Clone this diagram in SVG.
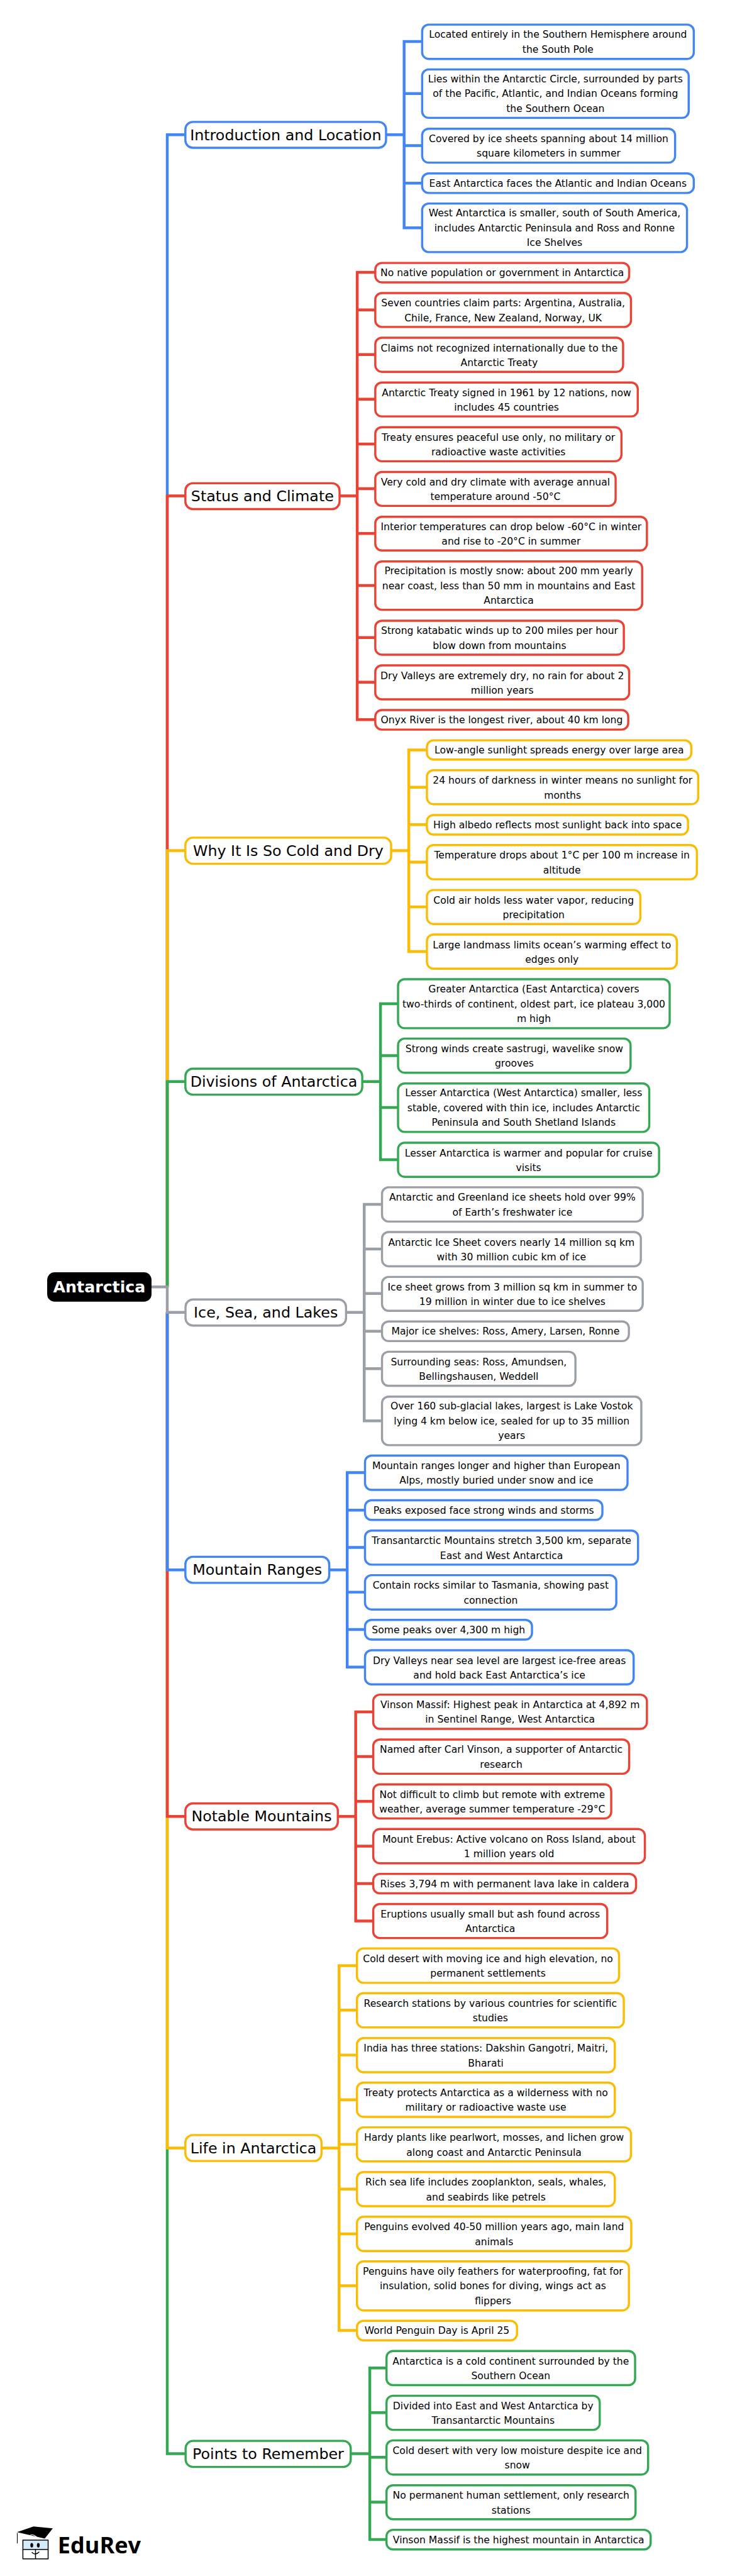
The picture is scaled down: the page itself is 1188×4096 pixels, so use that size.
<svg xmlns="http://www.w3.org/2000/svg" width="1188" height="4096" viewBox="0 0 1188 4096">
<style>
text{font-family:"DejaVu Sans","Liberation Sans",sans-serif;text-anchor:middle;fill:#000}
.l{font-size:21px}
.h{font-size:32px}
.r{font-size:34px;font-weight:700;fill:#fff}
rect{fill:#fff;stroke-width:4.6}
.cb{stroke:#4285f4}.cr{stroke:#ea4335}.cy{stroke:#fbbc04}.cg{stroke:#34a853}.ca{stroke:#9aa0a6}
path{fill:none;stroke-width:6}
</style>
<rect x="0" y="0" width="1188" height="4096" style="fill:#fff;stroke:none"/>
<g transform="scale(0.743)">
<g id="connectors">
<path class="cb" d="M358 2754V288.4H397"/>
<path class="cr" d="M358 2754V1061.2H397"/>
<path class="cy" d="M358 2754V1820.3H397"/>
<path class="cg" d="M358 2754V2314.7H397"/>
<path class="cg" d="M358 2808.6V5251H397"/>
<path class="cy" d="M358 2808.6V4596.8H397"/>
<path class="cr" d="M358 2808.6V3887.3H397"/>
<path class="cb" d="M358 2808.6V3359.7H397"/>
<path class="ca" d="M322 2754H358V2808.6H397"/>
<path class="cb" d="M826 288.4H865M904 88.8H865V487.6H904M865 200.2H904M865 311.6H904M865 392H904"/>
<path class="cr" d="M727 1061.2H764.6M804 582.9H764.6V1540H804M764.6 663.3H804M764.6 758.8H804M764.6 854.3H804M764.6 950.2H804M764.6 1045.7H804M764.6 1141.6H804M764.6 1253H804M764.6 1364.3H804M764.6 1460H804"/>
<path class="cy" d="M837 1820.3H875M914 1605H875V2036.3H914M875 1684.7H914M875 1764.7H914M875 1845H914M875 1940.7H914"/>
<path class="cg" d="M775 2314.7H814.4M852 2148H814.4V2481.7H852M814.4 2259H852M814.4 2370H852"/>
<path class="ca" d="M741 2808.6H779.6M818 2577.3H779.6V3040.8H818M779.6 2673H818M779.6 2768.3H818M779.6 2849H818M779.6 2928.9H818"/>
<path class="cb" d="M705 3359.7H743.2M782 3151.3H743.2V3567.7H782M743.2 3231.7H782M743.2 3311.7H782M743.2 3407.3H782M743.2 3487.3H782"/>
<path class="cr" d="M723 3887.3H761.3M799 3663.6H761.3V4111H799M761.3 3759H799M761.3 3855H799M761.3 3951H799M761.3 4031H799"/>
<path class="cy" d="M688 4596.8H725.8M764 4206.6H725.8V4987.3H764M725.8 4301.8H764M725.8 4397.9H764M725.8 4493.6H764M725.8 4589H764M725.8 4684.6H764M725.8 4780.7H764M725.8 4891.7H764"/>
<path class="cg" d="M751 5251H791.5M828 5067.7H791.5V5434.7H828M791.5 5163.3H828M791.5 5258.7H828M791.5 5354.7H828"/>
</g>
<g id="root"><rect x="101" y="2722.8" width="223.3" height="62.9" rx="16" style="fill:#000;stroke:none"/><text class="r" x="212.6" y="2766">Antarctica</text></g>

<g id="intro"><rect class="cb" x="396.8" y="260.9" width="429.5" height="55.4" rx="16"/><text class="h" x="611.5" y="299.6">Introduction and Location</text></g>
<g id="intro-1"><rect class="cb" x="903.6" y="52.7" width="581.4" height="73.4" rx="14"/><text class="l" x="1194.3" y="81">Located entirely in the Southern Hemisphere around</text><text class="l" x="1194.3" y="112.4">the South Pole</text></g>
<g id="intro-2"><rect class="cb" x="903.6" y="148.6" width="570.5" height="103.6" rx="14"/><text class="l" x="1188.9" y="176.3">Lies within the Antarctic Circle, surrounded by parts</text><text class="l" x="1188.9" y="207.7">of the Pacific, Atlantic, and Indian Oceans forming</text><text class="l" x="1188.9" y="239.1">the Southern Ocean</text></g>
<g id="intro-3"><rect class="cb" x="903.6" y="275.6" width="541.4" height="72.5" rx="14"/><text class="l" x="1174.3" y="304.4">Covered by ice sheets spanning about 14 million</text><text class="l" x="1174.3" y="335.8">square kilometers in summer</text></g>
<g id="intro-4"><rect class="cb" x="903.6" y="371.1" width="581.4" height="41.9" rx="14"/><text class="l" x="1194.3" y="399.3">East Antarctica faces the Atlantic and Indian Oceans</text></g>
<g id="intro-5"><rect class="cb" x="903.6" y="435.6" width="566.9" height="103.9" rx="14"/><text class="l" x="1187" y="463.5">West Antarctica is smaller, south of South America,</text><text class="l" x="1187" y="494.9">includes Antarctic Peninsula and Ross and Ronne</text><text class="l" x="1187" y="526.3">Ice Shelves</text></g>

<g id="status"><rect class="cr" x="396.8" y="1034.1" width="330" height="55.4" rx="16"/><text class="h" x="561.7" y="1072.8">Status and Climate</text></g>
<g id="status-1"><rect class="cr" x="803.3" y="562.7" width="543.4" height="41.5" rx="14"/><text class="l" x="1075" y="590.8">No native population or government in Antarctica</text></g>
<g id="status-2"><rect class="cr" x="803.3" y="627.2" width="547.2" height="72.5" rx="14"/><text class="l" x="1076.9" y="656.1">Seven countries claim parts: Argentina, Australia,</text><text class="l" x="1076.9" y="687.5">Chile, France, New Zealand, Norway, UK</text></g>
<g id="status-3"><rect class="cr" x="803.3" y="722.7" width="530.4" height="73" rx="14"/><text class="l" x="1068.5" y="751.8">Claims not recognized internationally due to the</text><text class="l" x="1068.5" y="783.2">Antarctic Treaty</text></g>
<g id="status-4"><rect class="cr" x="803.3" y="818.6" width="561.8" height="72.6" rx="14"/><text class="l" x="1084.2" y="847.5">Antarctic Treaty signed in 1961 by 12 nations, now</text><text class="l" x="1084.2" y="878.9">includes 45 countries</text></g>
<g id="status-5"><rect class="cr" x="803.3" y="914.1" width="526.9" height="73" rx="14"/><text class="l" x="1066.8" y="943.2">Treaty ensures peaceful use only, no military or</text><text class="l" x="1066.8" y="974.6">radioactive waste activities</text></g>
<g id="status-6"><rect class="cr" x="803.3" y="1010.1" width="514.4" height="72.5" rx="14"/><text class="l" x="1060.5" y="1039">Very cold and dry climate with average annual</text><text class="l" x="1060.5" y="1070.4">temperature around -50°C</text></g>
<g id="status-7"><rect class="cr" x="803.3" y="1106" width="581.4" height="72" rx="14"/><text class="l" x="1094" y="1134.6">Interior temperatures can drop below -60°C in winter</text><text class="l" x="1094" y="1166">and rise to -20°C in summer</text></g>
<g id="status-8"><rect class="cr" x="803.3" y="1201.6" width="571.2" height="103.4" rx="14"/><text class="l" x="1088.9" y="1229.2">Precipitation is mostly snow: about 200 mm yearly</text><text class="l" x="1088.9" y="1260.6">near coast, less than 50 mm in mountains and East</text><text class="l" x="1088.9" y="1292">Antarctica</text></g>
<g id="status-9"><rect class="cr" x="803.3" y="1328.3" width="532" height="72.7" rx="14"/><text class="l" x="1069.3" y="1357.3">Strong katabatic winds up to 200 miles per hour</text><text class="l" x="1069.3" y="1388.7">blow down from mountains</text></g>
<g id="status-10"><rect class="cr" x="803.3" y="1424" width="543.4" height="72.7" rx="14"/><text class="l" x="1075" y="1452.9">Dry Valleys are extremely dry, no rain for about 2</text><text class="l" x="1075" y="1484.3">million years</text></g>
<g id="status-11"><rect class="cr" x="803.3" y="1519.6" width="541.4" height="41.8" rx="14"/><text class="l" x="1074" y="1547.8">Onyx River is the longest river, about 40 km long</text></g>

<g id="why"><rect class="cy" x="396.8" y="1792.6" width="440.4" height="55.8" rx="16"/><text class="h" x="617" y="1831.5">Why It Is So Cold and Dry</text></g>
<g id="why-1"><rect class="cy" x="913.8" y="1584.3" width="565.9" height="41.1" rx="14"/><text class="l" x="1196.8" y="1612.1">Low-angle sunlight spreads energy over large area</text></g>
<g id="why-2"><rect class="cy" x="913.8" y="1648.3" width="580.7" height="72.7" rx="14"/><text class="l" x="1204.2" y="1677.3">24 hours of darkness in winter means no sunlight for</text><text class="l" x="1204.2" y="1708.7">months</text></g>
<g id="why-3"><rect class="cy" x="913.8" y="1744.3" width="558.9" height="41.7" rx="14"/><text class="l" x="1193.3" y="1772.4">High albedo reflects most sunlight back into space</text></g>
<g id="why-4"><rect class="cy" x="913.8" y="1808.6" width="577.9" height="73.1" rx="14"/><text class="l" x="1202.8" y="1837.7">Temperature drops about 1°C per 100 m increase in</text><text class="l" x="1202.8" y="1869.1">altitude</text></g>
<g id="why-5"><rect class="cy" x="913.8" y="1904.6" width="456.9" height="72.8" rx="14"/><text class="l" x="1142.3" y="1933.6">Cold air holds less water vapor, reducing</text><text class="l" x="1142.3" y="1965">precipitation</text></g>
<g id="why-6"><rect class="cy" x="913.8" y="2000" width="535" height="73" rx="14"/><text class="l" x="1181.3" y="2029.1">Large landmass limits ocean’s warming effect to</text><text class="l" x="1181.3" y="2060.5">edges only</text></g>

<g id="divisions"><rect class="cg" x="396.8" y="2287" width="378.6" height="55.7" rx="16"/><text class="h" x="586.1" y="2325.8">Divisions of Antarctica</text></g>
<g id="div-1"><rect class="cg" x="852" y="2095.6" width="581.4" height="104.8" rx="14"/><text class="l" x="1142.7" y="2124.2">Greater Antarctica (East Antarctica) covers</text><text class="l" x="1142.7" y="2155.6">two-thirds of continent, oldest part, ice plateau 3,000</text><text class="l" x="1142.7" y="2187">m high</text></g>
<g id="div-2"><rect class="cg" x="852" y="2222.6" width="497.7" height="73.1" rx="14"/><text class="l" x="1100.9" y="2251.8">Strong winds create sastrugi, wavelike snow</text><text class="l" x="1100.9" y="2283.2">grooves</text></g>
<g id="div-3"><rect class="cg" x="852" y="2318.6" width="537.7" height="103.8" rx="14"/><text class="l" x="1120.9" y="2346.4">Lesser Antarctica (West Antarctica) smaller, less</text><text class="l" x="1120.9" y="2377.8">stable, covered with thin ice, includes Antarctic</text><text class="l" x="1120.9" y="2409.2">Peninsula and South Shetland Islands</text></g>
<g id="div-4"><rect class="cg" x="852" y="2445.6" width="558.7" height="72.8" rx="14"/><text class="l" x="1131.4" y="2474.6">Lesser Antarctica is warmer and popular for cruise</text><text class="l" x="1131.4" y="2506">visits</text></g>

<g id="ice"><rect class="ca" x="397.1" y="2780.9" width="343.6" height="55.8" rx="16"/><text class="h" x="568.9" y="2819.8">Ice, Sea, and Lakes</text></g>
<g id="ice-1"><rect class="ca" x="817.7" y="2540.9" width="558" height="73.3" rx="14"/><text class="l" x="1096.7" y="2569.9">Antarctic and Greenland ice sheets hold over 99%</text><text class="l" x="1096.7" y="2601.3">of Earth’s freshwater ice</text></g>
<g id="ice-2"><rect class="ca" x="817.7" y="2636.6" width="554" height="73.3" rx="14"/><text class="l" x="1094.7" y="2665.6">Antarctic Ice Sheet covers nearly 14 million sq km</text><text class="l" x="1094.7" y="2697">with 30 million cubic km of ice</text></g>
<g id="ice-3"><rect class="ca" x="817.7" y="2732.7" width="558" height="72.5" rx="14"/><text class="l" x="1096.7" y="2761.5">Ice sheet grows from 3 million sq km in summer to</text><text class="l" x="1096.7" y="2792.9">19 million in winter due to ice shelves</text></g>
<g id="ice-4"><rect class="ca" x="817.7" y="2828" width="528.4" height="42" rx="14"/><text class="l" x="1081.9" y="2856.3">Major ice shelves: Ross, Amery, Larsen, Ronne</text></g>
<g id="ice-5"><rect class="ca" x="817.7" y="2892.8" width="414" height="72.9" rx="14"/><text class="l" x="1024.7" y="2921.8">Surrounding seas: Ross, Amundsen,</text><text class="l" x="1024.7" y="2953.2">Bellingshausen, Weddell</text></g>
<g id="ice-6"><rect class="ca" x="817.7" y="2988.9" width="555" height="103.8" rx="14"/><text class="l" x="1095.2" y="3016.7">Over 160 sub-glacial lakes, largest is Lake Vostok</text><text class="l" x="1095.2" y="3048.1">lying 4 km below ice, sealed for up to 35 million</text><text class="l" x="1095.2" y="3079.5">years</text></g>

<g id="mountain"><rect class="cb" x="396.8" y="3331.6" width="307.9" height="55.8" rx="16"/><text class="h" x="550.7" y="3370.7">Mountain Ranges</text></g>
<g id="mnt-1"><rect class="cb" x="781.3" y="3115" width="561.9" height="73.4" rx="14"/><text class="l" x="1062.3" y="3144">Mountain ranges longer and higher than European</text><text class="l" x="1062.3" y="3175.4">Alps, mostly buried under snow and ice</text></g>
<g id="mnt-2"><rect class="cb" x="781.3" y="3210.6" width="508.1" height="42.1" rx="14"/><text class="l" x="1035.4" y="3239">Peaks exposed face strong winds and storms</text></g>
<g id="mnt-3"><rect class="cb" x="781.3" y="3275.6" width="584.4" height="72.8" rx="14"/><text class="l" x="1073.5" y="3304.6">Transantarctic Mountains stretch 3,500 km, separate</text><text class="l" x="1073.5" y="3336">East and West Antarctica</text></g>
<g id="mnt-4"><rect class="cb" x="781.3" y="3371" width="537.9" height="73.4" rx="14"/><text class="l" x="1050.3" y="3400">Contain rocks similar to Tasmania, showing past</text><text class="l" x="1050.3" y="3431.4">connection</text></g>
<g id="mnt-5"><rect class="cb" x="781.3" y="3466.6" width="357.4" height="42.1" rx="14"/><text class="l" x="960" y="3495">Some peaks over 4,300 m high</text></g>
<g id="mnt-6"><rect class="cb" x="781.3" y="3531.6" width="575" height="73.1" rx="14"/><text class="l" x="1068.8" y="3560.7">Dry Valleys near sea level are largest ice-free areas</text><text class="l" x="1068.8" y="3592.1">and hold back East Antarctica’s ice</text></g>

<g id="notable"><rect class="cr" x="396.8" y="3859.3" width="326.3" height="55.9" rx="16"/><text class="h" x="559.9" y="3898.3">Notable Mountains</text></g>
<g id="not-1"><rect class="cr" x="798.9" y="3626.7" width="585.8" height="73.2" rx="14"/><text class="l" x="1091.8" y="3655.6">Vinson Massif: Highest peak in Antarctica at 4,892 m</text><text class="l" x="1091.8" y="3687">in Sentinel Range, West Antarctica</text></g>
<g id="not-2"><rect class="cr" x="798.9" y="3722.7" width="547.8" height="73.2" rx="14"/><text class="l" x="1072.8" y="3751.6">Named after Carl Vinson, a supporter of Antarctic</text><text class="l" x="1072.8" y="3783">research</text></g>
<g id="not-3"><rect class="cr" x="798.9" y="3818.7" width="509.4" height="72.8" rx="14"/><text class="l" x="1053.6" y="3847.4">Not difficult to climb but remote with extreme</text><text class="l" x="1053.6" y="3878.8">weather, average summer temperature -29°C</text></g>
<g id="not-4"><rect class="cr" x="798.9" y="3914.3" width="581.4" height="73.2" rx="14"/><text class="l" x="1089.6" y="3943.2">Mount Erebus: Active volcano on Ross Island, about</text><text class="l" x="1089.6" y="3974.6">1 million years old</text></g>
<g id="not-5"><rect class="cr" x="798.9" y="4010.3" width="562.5" height="41.6" rx="14"/><text class="l" x="1080.2" y="4038.4">Rises 3,794 m with permanent lava lake in caldera</text></g>
<g id="not-6"><rect class="cr" x="798.9" y="4074.7" width="500.8" height="72.8" rx="14"/><text class="l" x="1049.3" y="4103.4">Eruptions usually small but ash found across</text><text class="l" x="1049.3" y="4134.8">Antarctica</text></g>

<g id="life"><rect class="cy" x="396.8" y="4569.1" width="291.4" height="55.6" rx="16"/><text class="h" x="542.5" y="4607.8">Life in Antarctica</text></g>
<g id="life-1"><rect class="cy" x="764" y="4169.8" width="561.1" height="73.6" rx="14"/><text class="l" x="1044.5" y="4199">Cold desert with moving ice and high elevation, no</text><text class="l" x="1044.5" y="4230.4">permanent settlements</text></g>
<g id="life-2"><rect class="cy" x="764" y="4265.5" width="571.2" height="73.2" rx="14"/><text class="l" x="1049.6" y="4294.5">Research stations by various countries for scientific</text><text class="l" x="1049.6" y="4325.9">studies</text></g>
<g id="life-3"><rect class="cy" x="764" y="4361.6" width="552" height="73.1" rx="14"/><text class="l" x="1039.9" y="4390.6">India has three stations: Dakshin Gangotri, Maitri,</text><text class="l" x="1039.9" y="4422">Bharati</text></g>
<g id="life-4"><rect class="cy" x="764" y="4456.9" width="552" height="73.3" rx="14"/><text class="l" x="1039.9" y="4485.9">Treaty protects Antarctica as a wilderness with no</text><text class="l" x="1039.9" y="4517.3">military or radioactive waste use</text></g>
<g id="life-5"><rect class="cy" x="764" y="4552.7" width="586.5" height="72.9" rx="14"/><text class="l" x="1057.3" y="4581.7">Hardy plants like pearlwort, mosses, and lichen grow</text><text class="l" x="1057.3" y="4613.1">along coast and Antarctic Peninsula</text></g>
<g id="life-6"><rect class="cy" x="764" y="4648.3" width="552" height="73.1" rx="14"/><text class="l" x="1039.9" y="4677.5">Rich sea life includes zooplankton, seals, whales,</text><text class="l" x="1039.9" y="4708.9">and seabirds like petrels</text></g>
<g id="life-7"><rect class="cy" x="764" y="4744" width="587.2" height="73.4" rx="14"/><text class="l" x="1057.6" y="4773">Penguins evolved 40-50 million years ago, main land</text><text class="l" x="1057.6" y="4804.4">animals</text></g>
<g id="life-8"><rect class="cy" x="764" y="4839.6" width="582.2" height="104.8" rx="14"/><text class="l" x="1055.1" y="4868">Penguins have oily feathers for waterproofing, fat for</text><text class="l" x="1055.1" y="4899.4">insulation, solid bones for diving, wings act as</text><text class="l" x="1055.1" y="4930.8">flippers</text></g>
<g id="life-9"><rect class="cy" x="764" y="4966.6" width="342.7" height="41.8" rx="14"/><text class="l" x="935.4" y="4994.8">World Penguin Day is April 25</text></g>

<g id="points"><rect class="cg" x="397.3" y="5223.6" width="353.4" height="55.8" rx="16"/><text class="h" x="574" y="5262.5">Points to Remember</text></g>
<g id="pts-1"><rect class="cg" x="827.3" y="5031.3" width="532.1" height="73.1" rx="14"/><text class="l" x="1093.3" y="5060.5">Antarctica is a cold continent surrounded by the</text><text class="l" x="1093.3" y="5091.9">Southern Ocean</text></g>
<g id="pts-2"><rect class="cg" x="827.3" y="5127" width="456.4" height="73" rx="14"/><text class="l" x="1055.5" y="5156">Divided into East and West Antarctica by</text><text class="l" x="1055.5" y="5187.4">Transantarctic Mountains</text></g>
<g id="pts-3"><rect class="cg" x="827.3" y="5222.6" width="559.9" height="73.1" rx="14"/><text class="l" x="1107.3" y="5251.8">Cold desert with very low moisture despite ice and</text><text class="l" x="1107.3" y="5283.2">snow</text></g>
<g id="pts-4"><rect class="cg" x="827.3" y="5318.6" width="533.1" height="72.8" rx="14"/><text class="l" x="1093.9" y="5347.6">No permanent human settlement, only research</text><text class="l" x="1093.9" y="5379">stations</text></g>
<g id="pts-5"><rect class="cg" x="827.3" y="5414" width="565.4" height="42" rx="14"/><text class="l" x="1110" y="5442.3">Vinson Massif is the highest mountain in Antarctica</text></g>

<g id="logo">
<polygon points="36.4,5419 71.8,5406.7 113,5410.7 95.7,5432.7" style="fill:#000"/>
<path d="M37 5421V5443" style="stroke:#000;stroke-width:1.5"/>
<path d="M60 5428Q70 5420 80 5431" style="stroke:#fff;stroke-width:1.5"/>
<rect x="49" y="5436" width="54" height="20" style="fill:#d4ecfa;stroke:#000;stroke-width:2"/>
<ellipse cx="68" cy="5447" rx="3" ry="5" style="fill:#000"/><ellipse cx="82" cy="5447" rx="3" ry="5" style="fill:#000"/>
<path d="M49 5456V5476H103V5456M76 5456V5476M68 5462Q76 5470 84 5461" style="stroke:#000;stroke-width:2"/>
<text x="212.5" y="5465" style="font-family:'Open Sans','DejaVu Sans',sans-serif;font-size:48.5px;font-weight:700">EduRev</text>
</g>
</g>
</svg>
